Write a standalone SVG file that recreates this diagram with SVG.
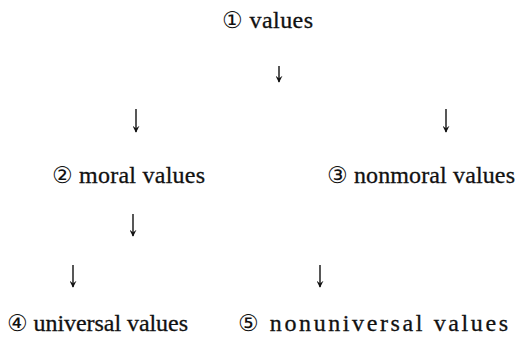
<svg xmlns="http://www.w3.org/2000/svg" width="520" height="342" viewBox="0 0 520 342">
<defs>
<style>
.lbl{font-family:"Liberation Serif","DejaVu Serif",serif;font-size:24px;fill:#111;stroke:#111;stroke-width:0.3px}
.num{font-family:"DejaVu Sans","Liberation Serif",sans-serif;font-size:23px;stroke-width:0px}
.arr{stroke:#111;stroke-width:1.4;fill:none;marker-end:url(#ah)}
</style>
<marker id="ah" viewBox="0 0 10 10" refX="9" refY="5" markerWidth="7" markerHeight="7" markerUnits="userSpaceOnUse" orient="auto">
<path d="M0,0 L10,5 L0,10 L4,5 Z" fill="#111"/>
</marker>
</defs>
<rect width="520" height="342" fill="#fff"/>
<g id="connectors">
<path class="arr" d="M279,66 V82"/>
<path class="arr" d="M136,109 V132"/>
<path class="arr" d="M446,109 V132"/>
<path class="arr" d="M133,214 V236"/>
<path class="arr" d="M73,265 V287"/>
<path class="arr" d="M320,265 V287"/>
</g>
<g id="n1"><text class="lbl" x="222" y="28" textLength="91" lengthAdjust="spacing"><tspan class="num">①</tspan> values</text></g>
<g id="n2"><text class="lbl" x="52" y="183" textLength="153" lengthAdjust="spacing"><tspan class="num">②</tspan> moral values</text></g>
<g id="n3"><text class="lbl" x="327" y="183" textLength="188" lengthAdjust="spacing"><tspan class="num">③</tspan> nonmoral values</text></g>
<g id="n4"><text class="lbl" x="7" y="331" textLength="181" lengthAdjust="spacing"><tspan class="num">④</tspan> universal values</text></g>
<g id="n5"><text class="lbl" x="238" y="331" textLength="270" lengthAdjust="spacing"><tspan class="num">⑤</tspan> nonuniversal values</text></g>
</svg>
